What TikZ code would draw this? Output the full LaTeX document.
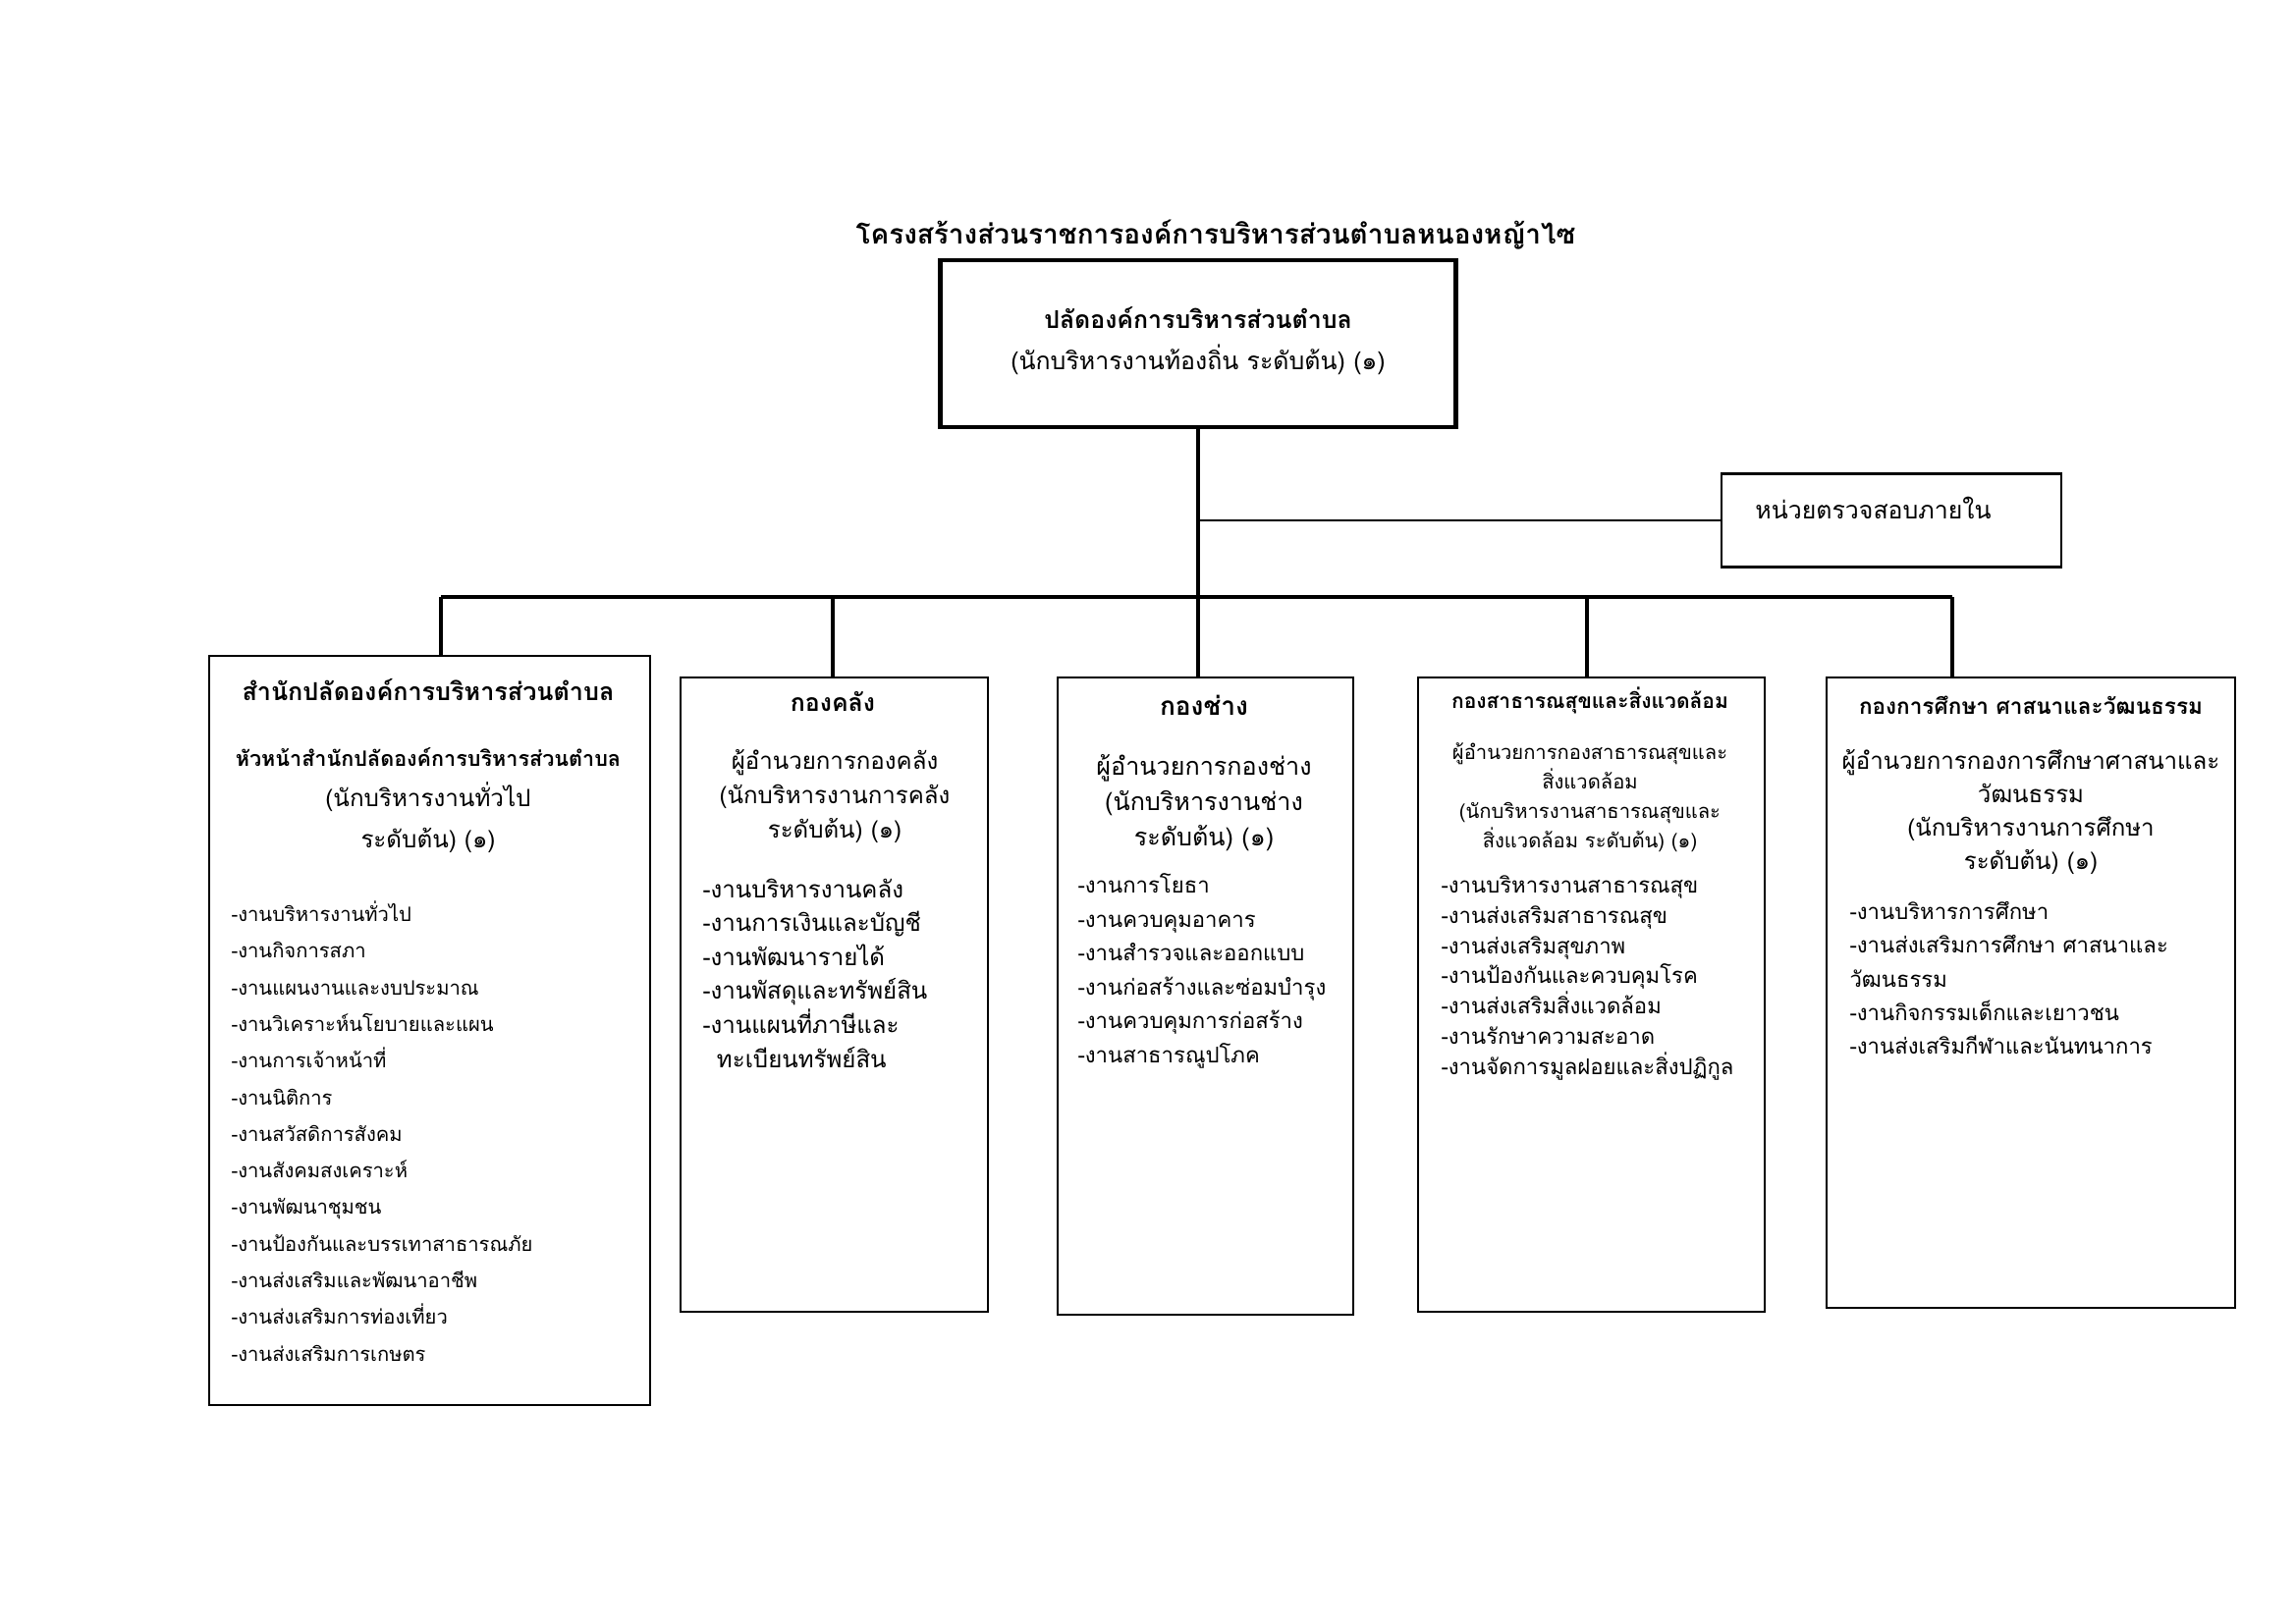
\documentclass[tikz,border=0pt]{standalone}
\usepackage{fontspec}
\setmainfont[Script=Thai]{Loma}
\begin{document}
\begin{tikzpicture}[x=0.012703cm, y=-0.012703cm,
        unit/.style={draw, line width=0.8pt, anchor=north west, inner sep=0pt},
        deptname/.style={font=\bfseries\fontsize{9}{11}\selectfont},
        chiefpos/.style={align=center, font=\fontsize{8.7}{12.5}\selectfont},
        jobs/.style={align=left, anchor=west, inner sep=0pt, font=\fontsize{8}{12.5}\selectfont}]
        \useasboundingbox (0,0) rectangle (2338,1654);

        \node[font=\bfseries\fontsize{10.1}{13}\selectfont] (heading) at (1238, 239) {โครงสร้างส่วนราชการองค์การบริหารส่วนตำบลหนองหญ้าไซ};

        \node[draw, line width=1.6pt, minimum width=6.669cm, minimum height=2.160cm, align=center,
              font=\fontsize{9}{15}\selectfont] (chief) at (1220, 350)
              {\textbf{ปลัดองค์การบริหารส่วนตำบล}\\(นักบริหารงานท้องถิ่น ระดับต้น) (๑)\\[-11pt]};
        \node[draw, line width=0.9pt, minimum width=4.395cm, minimum height=1.207cm,
              font=\fontsize{9}{12}\selectfont] (audit) at (1926, 530) {\raisebox{9.4pt}{หน่วยตรวจสอบภายใน}\kern13.4pt};

        \node[unit, minimum width=5.704cm, minimum height=9.692cm] (office) at (212, 667) {};
        \node[unit, minimum width=3.976cm, minimum height=8.206cm] (finance) at (692, 689) {};
        \node[unit, minimum width=3.824cm, minimum height=8.244cm] (works) at (1076, 689) {};
        \node[unit, minimum width=4.484cm, minimum height=8.206cm] (health) at (1443, 689) {};
        \node[unit, minimum width=5.284cm, minimum height=8.155cm] (edu) at (1859, 689) {};

        \coordinate (j1) at (449, 608);
        \coordinate (j2) at (848, 608);
        \coordinate (j3) at (chief.south |- 0, 608);
        \coordinate (j4) at (1616, 608);
        \coordinate (j5) at (1988, 608);

        \draw[line width=1.4pt] (chief.south) -- (j3);
        \draw[line width=0.8pt] (chief.south |- audit.west) -- (audit.west);
        \draw[line width=1.7pt] (j1) -- (j5);
        \draw[line width=1.2pt] (j1) -- (j1 |- office.north);
        \draw[line width=1.2pt] (j2) -- (j2 |- finance.north);
        \draw[line width=1.2pt] (j3) -- (j3 |- works.north);
        \draw[line width=1.2pt] (j4) -- (j4 |- health.north);
        \draw[line width=1.2pt] (j5) -- (j5 |- edu.north);

        \node[deptname, font=\bfseries\fontsize{9.1}{11}\selectfont] (office-name) at (436, 703) {สำนักปลัดองค์การบริหารส่วนตำบล};
        \node[chiefpos, font=\fontsize{8.75}{15}\selectfont] (office-chief) at (436, 815)
              {\textbf{\fontsize{7.8}{15}\selectfont หัวหน้าสำนักปลัดองค์การบริหารส่วนตำบล}\\(นักบริหารงานทั่วไป\\ระดับต้น) (๑)};
        \node[jobs, font=\fontsize{7.3}{13.5}\selectfont] (office-jobs) at (235, 1152)
              {-งานบริหารงานทั่วไป\\-งานกิจการสภา\\-งานแผนงานและงบประมาณ\\-งานวิเคราะห์นโยบายและแผน\\-งานการเจ้าหน้าที่\\-งานนิติการ\\-งานสวัสดิการสังคม\\-งานสังคมสงเคราะห์\\-งานพัฒนาชุมชน\\-งานป้องกันและบรรเทาสาธารณภัย\\-งานส่งเสริมและพัฒนาอาชีพ\\-งานส่งเสริมการท่องเที่ยว\\-งานส่งเสริมการเกษตร};

        \node[deptname] (finance-name) at (848, 715) {กองคลัง};
        \node[chiefpos] (finance-chief) at (850, 811)
              {ผู้อำนวยการกองคลัง\\(นักบริหารงานการคลัง\\ระดับต้น) (๑)};
        \node[jobs, font=\fontsize{8.7}{12.5}\selectfont] (finance-jobs) at (715, 991)
              {-งานบริหารงานคลัง\\-งานการเงินและบัญชี\\-งานพัฒนารายได้\\-งานพัสดุและทรัพย์สิน\\-งานแผนที่ภาษีและ\\\hspace{0.6em}ทะเบียนทรัพย์สิน};

        \node[deptname, font=\bfseries\fontsize{9.5}{11}\selectfont] (works-name) at (1226, 718) {กองช่าง};
        \node[chiefpos, font=\fontsize{9.1}{13}\selectfont] (works-chief) at (1226, 818)
              {ผู้อำนวยการกองช่าง\\(นักบริหารงานช่าง\\ระดับต้น) (๑)};
        \node[jobs] (works-jobs) at (1097, 989)
              {-งานการโยธา\\-งานควบคุมอาคาร\\-งานสำรวจและออกแบบ\\-งานก่อสร้างและซ่อมบำรุง\\-งานควบคุมการก่อสร้าง\\-งานสาธารณูปโภค};

        \node[deptname, font=\bfseries\fontsize{7.6}{11}\selectfont] (health-name) at (1619, 713) {กองสาธารณสุขและสิ่งแวดล้อม};
        \node[chiefpos, font=\fontsize{7.3}{10.8}\selectfont] (health-chief) at (1619, 812)
              {ผู้อำนวยการกองสาธารณสุขและ\\สิ่งแวดล้อม\\(นักบริหารงานสาธารณสุขและ\\สิ่งแวดล้อม ระดับต้น) (๑)};
        \node[jobs, font=\fontsize{8}{11.2}\selectfont] (health-jobs) at (1467, 996)
              {-งานบริหารงานสาธารณสุข\\-งานส่งเสริมสาธารณสุข\\-งานส่งเสริมสุขภาพ\\-งานป้องกันและควบคุมโรค\\-งานส่งเสริมสิ่งแวดล้อม\\-งานรักษาความสะอาด\\-งานจัดการมูลฝอยและสิ่งปฏิกูล};

        \node[deptname, font=\bfseries\fontsize{8.15}{11}\selectfont] (edu-name) at (2068, 718) {กองการศึกษา ศาสนาและวัฒนธรรม};
        \node[chiefpos, font=\fontsize{8.7}{12.2}\selectfont] (edu-chief) at (2068, 827)
              {ผู้อำนวยการกองการศึกษาศาสนาและ\\วัฒนธรรม\\(นักบริหารงานการศึกษา\\ระดับต้น) (๑)};
        \node[jobs, font=\fontsize{8}{12.4}\selectfont] (edu-jobs) at (1883, 996)
              {-งานบริหารการศึกษา\\-งานส่งเสริมการศึกษา ศาสนาและ\\วัฒนธรรม\\-งานกิจกรรมเด็กและเยาวชน\\-งานส่งเสริมกีฬาและนันทนาการ};

    \end{tikzpicture}
\end{document}
